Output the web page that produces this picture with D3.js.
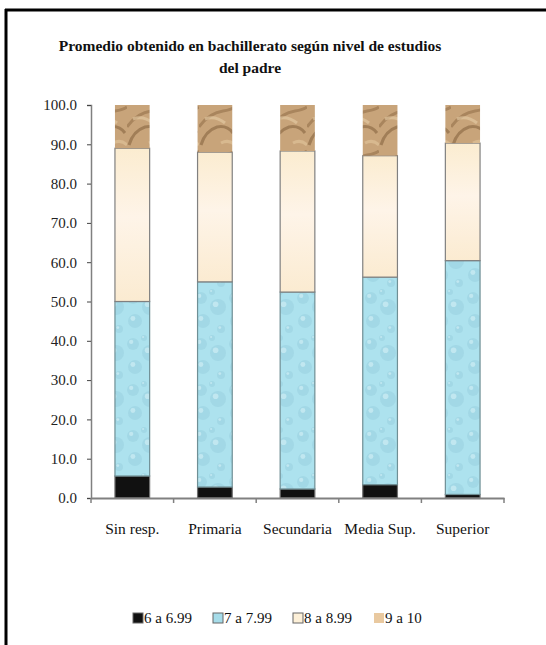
<!DOCTYPE html>
<html>
<head>
<meta charset="utf-8">
<script src="https://cdn.jsdelivr.net/npm/d3@7"></script>
<style>
  body { margin: 0; background: #fff; }
</style>
</head>
<body>
<div id="chart"></div>
<script>
// datos (porcentajes)
const categorias = ["Sin resp.", "Primaria", "Secundaria", "Media Sup.", "Superior"];
const series = ["6 a 6.99", "7 a 7.99", "8 a 8.99", "9 a 10"];
const s6 = [5.6, 2.8, 2.3, 3.4, 0.9];
const s7 = [44.4, 52.2, 50.1, 52.8, 59.5];
const s8 = [39.0, 33.0, 35.9, 30.9, 29.9];
const s9 = [11.0, 12.0, 11.7, 12.9, 9.7];
const yTicks = [0, 10, 20, 30, 40, 50, 60, 70, 80, 90, 100];

const FONT = "'Liberation Serif', 'Times New Roman', serif";
const W = 546, H = 645;
const margin = { top: 105, right: 42, bottom: 147, left: 91 };
const width = W - margin.left - margin.right,
      height = H - margin.top - margin.bottom;

const svg = d3.select("#chart").append("svg")
    .attr("width", W).attr("height", H)
    .style("font-family", FONT);

// texturas aproximadas
const defs = svg.append("defs");

const pBlue = defs.append("pattern").attr("id", "agua")
    .attr("patternUnits", "userSpaceOnUse").attr("width", 34).attr("height", 46);
pBlue.append("rect").attr("width", 34).attr("height", 46).attr("fill", "#ade2ee");
[[8, 9, 6], [25, 18, 8], [10, 32, 7], [28, 40, 4], [19, 3, 3]].forEach(c => {
    pBlue.append("circle").attr("cx", c[0]).attr("cy", c[1]).attr("r", c[2])
        .attr("fill", "#94cddb").attr("opacity", 0.45);
    pBlue.append("circle").attr("cx", c[0] - c[2] * 0.3).attr("cy", c[1] - c[2] * 0.35).attr("r", c[2] * 0.35)
        .attr("fill", "#d6f2f7").attr("opacity", 0.6);
});

const pCream = defs.append("linearGradient").attr("id", "crema")
    .attr("x1", 0).attr("y1", 0).attr("x2", 0).attr("y2", 1);
pCream.append("stop").attr("offset", "0%").attr("stop-color", "#fbecd0");
pCream.append("stop").attr("offset", "45%").attr("stop-color", "#fef4e8");
pCream.append("stop").attr("offset", "100%").attr("stop-color", "#fbebd1");

const pSand = defs.append("pattern").attr("id", "arena")
    .attr("patternUnits", "userSpaceOnUse").attr("width", 36).attr("height", 44);
pSand.append("rect").attr("width", 36).attr("height", 44).attr("fill", "#c8a47a");
pSand.append("path").attr("d", "M0 22 Q10 8 24 6 Q32 5 36 2")
    .attr("fill", "none").attr("stroke", "#8a6640").attr("stroke-width", 3).attr("opacity", 0.5);
pSand.append("path").attr("d", "M2 40 Q6 26 18 22 Q28 20 34 28")
    .attr("fill", "none").attr("stroke", "#7a5833").attr("stroke-width", 3).attr("opacity", 0.5);
pSand.append("path").attr("d", "M6 14 Q16 10 26 18")
    .attr("fill", "none").attr("stroke", "#e6cda7").attr("stroke-width", 3).attr("opacity", 0.6);
pSand.append("path").attr("d", "M22 38 Q30 34 36 40")
    .attr("fill", "none").attr("stroke", "#e3c79d").attr("stroke-width", 3).attr("opacity", 0.6);

const fills = ["#111111", "url(#agua)", "url(#crema)", "url(#arena)"];
const strokes = ["#707070", "#6f8f95", "#808080", "none"];
const legendFills = ["#111111", "#a6dce9", "#fdf0d8", "#e9c9a0"];

// marco
svg.append("line").attr("x1", 5).attr("x2", W).attr("y1", 10).attr("y2", 10)
    .attr("stroke", "#000").attr("stroke-width", 3);
svg.append("line").attr("x1", 6).attr("x2", 6).attr("y1", 9).attr("y2", H)
    .attr("stroke", "#000").attr("stroke-width", 3);

// título
const title = svg.append("text").attr("text-anchor", "middle")
    .style("font-family", FONT)
    .attr("font-size", "15.5px").attr("font-weight", "bold").attr("fill", "#111");
title.append("tspan").attr("x", 250).attr("y", 51)
    .text("Promedio obtenido en bachillerato según nivel de estudios");
title.append("tspan").attr("x", 250).attr("y", 73).text("del padre");

const g = svg.append("g").attr("transform", `translate(${margin.left},${margin.top})`);

const x = d3.scaleBand().domain(categorias).range([0, width]).paddingInner(0.58).paddingOuter(0.29);
const xAxisScale = d3.scaleBand().domain(categorias).range([0, width]);
const y = d3.scaleLinear().domain([0, 100]).range([height, 0]);

const tabla = categorias.map((c, i) => ({ cat: c, "6 a 6.99": s6[i], "7 a 7.99": s7[i], "8 a 8.99": s8[i], "9 a 10": s9[i] }));
const stack = d3.stack().keys(series)(tabla);

g.selectAll("g.serie")
    .data(stack)
    .enter().append("g")
    .attr("class", "serie")
    .attr("fill", (d, i) => fills[i])
    .attr("stroke", (d, i) => strokes[i])
    .attr("stroke-width", 1.2)
    .selectAll("rect")
    .data(d => d)
    .enter().append("rect")
    .attr("x", d => x(d.data.cat))
    .attr("y", d => y(d[1]))
    .attr("width", x.bandwidth())
    .attr("height", d => y(d[0]) - y(d[1]));

// eje Y
const yAxis = g.append("g")
    .call(d3.axisLeft(y).tickValues(yTicks).tickFormat(d3.format(".1f")).tickSize(4).tickPadding(10));
yAxis.select(".domain").attr("stroke", "#808080").attr("stroke-width", 1.5);
yAxis.selectAll(".tick line").attr("stroke", "#444");
yAxis.selectAll("text").attr("font-size", "15px").attr("fill", "#222")
    .style("font-family", FONT);

// eje X
const xAxis = g.append("g").attr("transform", `translate(0,${height})`)
    .call(d3.axisBottom(xAxisScale).tickSize(0).tickFormat(""));
xAxis.select(".domain").attr("stroke", "#808080").attr("stroke-width", 2);
xAxis.selectAll(".tick").remove();
xAxis.selectAll(".sep")
    .data(categorias.concat(["fin"]))
    .enter().append("line")
    .attr("x1", (d, i) => i * xAxisScale.step())
    .attr("x2", (d, i) => i * xAxisScale.step())
    .attr("y1", 0).attr("y2", 5)
    .attr("stroke", "#808080").attr("stroke-width", 1.5);

g.selectAll(".cat-label")
    .data(categorias)
    .enter().append("text")
    .attr("class", "cat-label")
    .attr("x", d => xAxisScale(d) + xAxisScale.bandwidth() / 2)
    .attr("y", height + 36)
    .attr("text-anchor", "middle")
    .style("font-family", FONT)
    .attr("font-size", "15.5px")
    .attr("fill", "#111")
    .text(d => d);

// leyenda
const legX = [133, 213, 293, 374];
const legend = svg.selectAll(".legend")
    .data(series)
    .enter().append("g")
    .attr("class", "legend")
    .attr("transform", (d, i) => `translate(${legX[i]}, 613)`);

legend.append("rect")
    .attr("width", 10).attr("height", 10)
    .attr("fill", (d, i) => legendFills[i])
    .attr("stroke", (d, i) => i === 3 ? "none" : "#666")
    .attr("stroke-width", 1);

legend.append("text")
    .attr("x", 11).attr("y", 10)
    .style("font-family", FONT)
    .attr("font-size", "15px")
    .attr("fill", "#111")
    .text(d => d);
</script>
</body>
</html>
